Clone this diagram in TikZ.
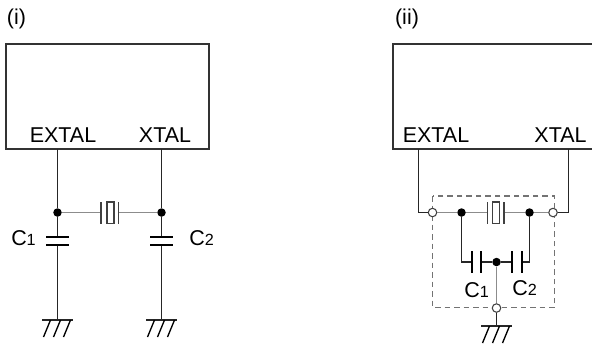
\documentclass[tikz,border=0pt]{standalone}
\usepackage{fontspec}
\setmainfont{Liberation Sans}
\newcommand{\capname}[2]{#1{\fontsize{4.6pt}{5pt}\selectfont #2}}
\tikzset{
  wire/.style={draw=black!85, line width=0.32pt},
  graywire/.style={draw=black!45, line width=0.4pt},
  plate/.style={draw=black, line width=0.62pt},
  thinplate/.style={draw=black!75, line width=0.3pt},
  chip/.style={draw=black!80, line width=0.42pt},
  dot/.style={circle, fill=black, inner sep=0pt, minimum size=0.085cm},
  opendot/.style={circle, draw=black!75, line width=0.3pt, fill=white, inner sep=0pt, minimum size=0.085cm},
  xtal/.style={rectangle, draw=black!75, line width=0.3pt, fill=white, inner sep=0pt, minimum width=0.07cm, minimum height=0.21cm},
  lbl/.style={inner sep=0pt, font=\fontsize{6.1pt}{7pt}\selectfont},
  gnd/.pic={
    \draw[wire, line width=0.5pt] (-15.5,0) -- (15.5,0);
    \draw[draw=black, line width=0.38pt] (-7,0) -- (-14,17) (3,0) -- (-4,17) (13,0) -- (6,17);
  }
}
\begin{document}
\begin{tikzpicture}[x=0.01cm, y=-0.01cm]
  \useasboundingbox (0,0) rectangle (592,347);
  % Panel (i)
  \node[lbl] (ti) at (16.5,19) {(i)};
  \node[chip, rectangle, minimum width=2.03cm, minimum height=1.05cm, inner sep=0pt] (chipa) at (107.5,96.5) {};
  \node[lbl] (exa) at (63,135) {EXTAL};
  \node[lbl] (xta) at (165,135) {XTAL};
  % Nodes
  \node[dot] (j1) at (57.5,212.5) {};
  \node[dot] (j2) at (161.5,212.5) {};
  \node[xtal] (xa) at (110.5,212.5) {};
  \coordinate (xal) at (101,212.5);
  \coordinate (xar) at (118.5,212.5);
  \coordinate (e1) at (57.5,149);
  \coordinate (e2) at (161.5,149);
  \coordinate (c1t) at (57.5,237);
  \coordinate (c1u) at (57.5,245);
  \coordinate (c2t) at (161.5,237);
  \coordinate (c2u) at (161.5,245);
  \coordinate (g1) at (57.5,320);
  \coordinate (g2) at (161.5,320);
  % Edges
  \draw[wire] (e1) -- (j1) -- (c1t);
  \draw[wire] (e2) -- (j2) -- (c2t);
  \draw[wire] (c1u) -- (g1);
  \draw[wire] (c2u) -- (g2);
  \draw[graywire] (j1) -- (xal);
  \draw[graywire] (xar) -- (j2);
  \draw[thinplate] (101,202) -- (101,224);
  \draw[thinplate] (118.5,202) -- (118.5,224);
  \draw[plate] (46,237) -- (69,237);
  \draw[plate] (46,245) -- (69,245);
  \draw[plate] (150,237) -- (173,237);
  \draw[plate] (150,245) -- (173,245);
  \pic at (g1) {gnd};
  \pic at (g2) {gnd};
  \node[lbl] (c1a) at (23.5,238.5) {\capname{C}{1}};
  \node[lbl] (c2a) at (201.5,238.5) {\capname{C}{2}};
  % Panel (ii)
  \node[lbl] (tii) at (407,19) {(ii)};
  \node[chip, rectangle, minimum width=2.17cm, minimum height=1.05cm, inner sep=0pt] (chipb) at (501.5,96.5) {};
  \node[lbl] (exb) at (436,135) {EXTAL};
  \node[lbl] (xtb) at (560.5,135) {XTAL};
  \draw[black!55, line width=0.3pt, dash pattern=on 0.055cm off 0.04cm] (432.5,196) rectangle (554.5,307.5);
  % Nodes
  \coordinate (e3) at (418.5,149);
  \coordinate (e4) at (568.5,149);
  \coordinate (k1) at (418.5,212.5);
  \coordinate (k2) at (568.5,212.5);
  \node[opendot] (o1) at (432.5,212.5) {};
  \node[opendot] (o2) at (553,212.5) {};
  \node[dot] (j3) at (461.5,212.5) {};
  \node[dot] (j4) at (529.5,212.5) {};
  \node[xtal] (xb) at (496,212.5) {};
  \coordinate (xbl) at (487.5,212.5);
  \coordinate (xbr) at (504,212.5);
  \coordinate (m1) at (461.5,262);
  \coordinate (m2) at (529.5,262);
  \coordinate (p1) at (472,262);
  \coordinate (p2) at (481,262);
  \coordinate (p3) at (512,262);
  \coordinate (p4) at (522,262);
  \node[dot] (j5) at (496.5,262) {};
  \node[opendot] (o3) at (496.5,308) {};
  \coordinate (g3) at (496.5,326);
  % Edges
  \draw[wire] (e3) -- (k1) -- (o1);
  \draw[wire] (e4) -- (k2) -- (o2);
  \draw[graywire] (o1) -- (j3) -- (xbl);
  \draw[graywire] (xbr) -- (j4) -- (o2);
  \draw[wire] (j3) -- (m1) -- (p1);
  \draw[wire] (j4) -- (m2) -- (p4);
  \draw[wire] (p2) -- (j5) -- (p3);
  \draw[graywire] (j5) -- (o3);
  \draw[wire] (o3) -- (g3);
  \draw[thinplate] (487.5,202) -- (487.5,224);
  \draw[thinplate] (504,202) -- (504,224);
  \draw[plate] (472,251) -- (472,273);
  \draw[plate] (481,251) -- (481,273);
  \draw[plate] (512,251) -- (512,273);
  \draw[plate] (522,251) -- (522,273);
  \pic at (g3) {gnd};
  \node[lbl] (c1b) at (476.5,290.5) {\capname{C}{1}};
  \node[lbl] (c2b) at (524.5,288) {\capname{C}{2}};
\end{tikzpicture}
\end{document}
